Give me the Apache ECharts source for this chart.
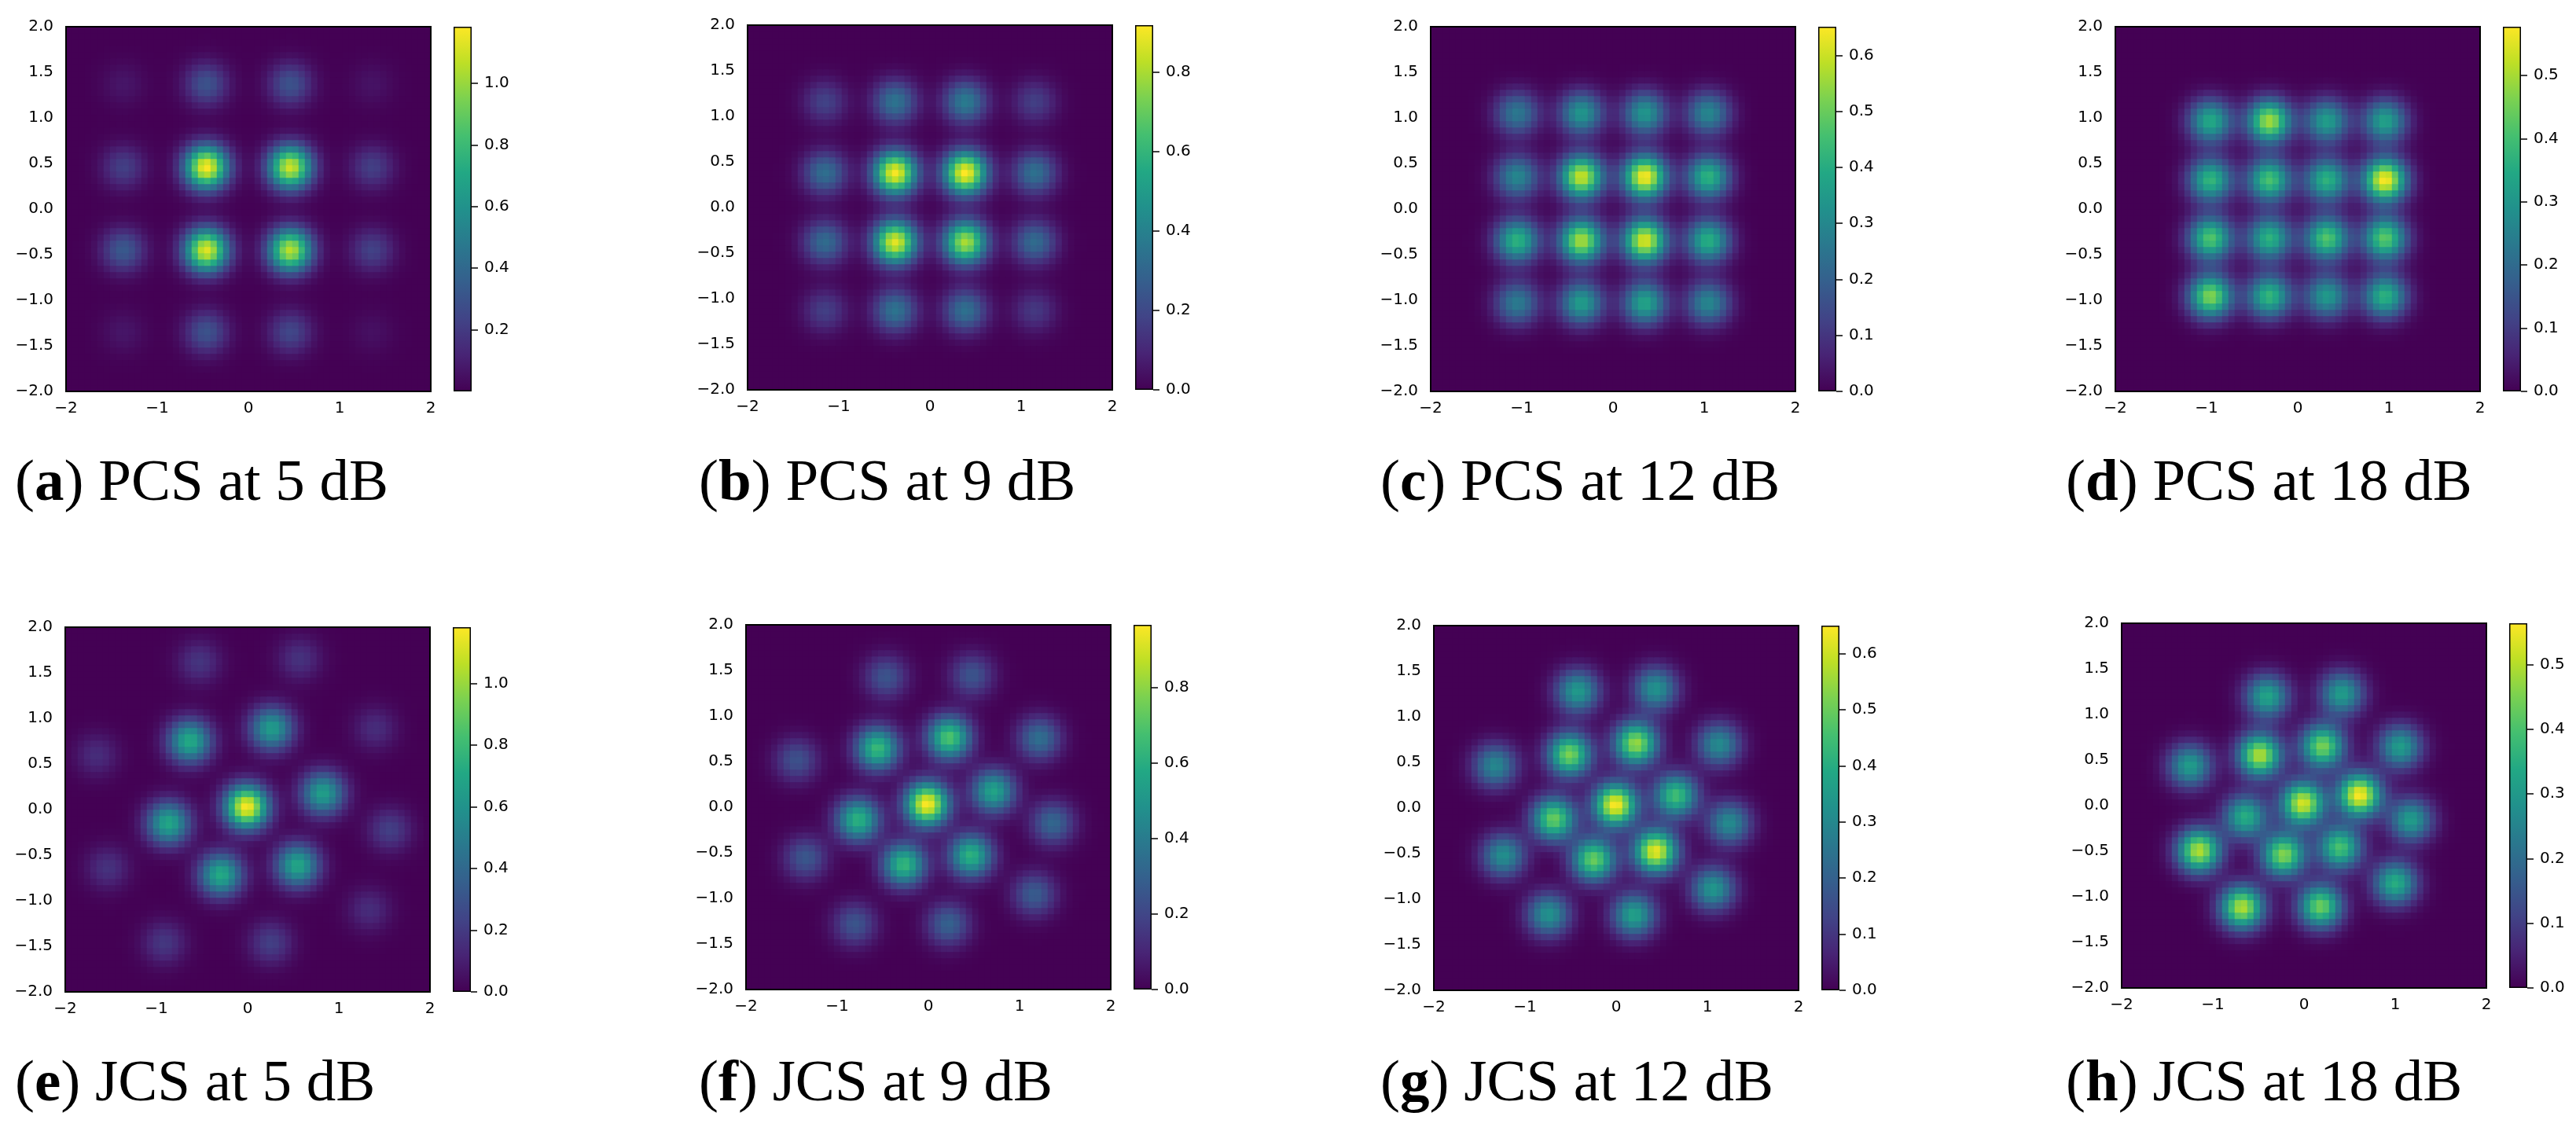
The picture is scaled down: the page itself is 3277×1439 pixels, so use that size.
<!DOCTYPE html>
<html>
<head>
<meta charset="utf-8">
<script src="https://cdn.jsdelivr.net/npm/echarts@6/dist/echarts.min.js"></script>
<style>
html, body { margin: 0; background: #fff; }
#main { width: 3277px; height: 1439px; }
</style>
</head>
<body>
<div id="main"></div>
<script>
// constellation points: [x, y, peak density]
var pcs5dB = [
    [-1.37, 1.37, 0.07], [-0.46, 1.37, 0.30], [0.46, 1.37, 0.30], [1.36, 1.37, 0.06],
    [-1.37, 0.46, 0.22], [-0.46, 0.46, 1.18], [0.46, 0.46, 1.10], [1.36, 0.46, 0.22],
    [-1.37, -0.45, 0.33], [-0.46, -0.45, 1.13], [0.46, -0.45, 1.06], [1.36, -0.45, 0.23],
    [-1.37, -1.35, 0.07], [-0.46, -1.35, 0.30], [0.46, -1.35, 0.25], [1.36, -1.35, 0.05]
];
var pcs9dB = [
    [-1.15, 1.16, 0.18], [-0.38, 1.16, 0.35], [0.39, 1.16, 0.38], [1.15, 1.16, 0.17],
    [-1.15, 0.38, 0.33], [-0.38, 0.38, 0.91], [0.39, 0.38, 0.92], [1.15, 0.38, 0.34],
    [-1.15, -0.38, 0.32], [-0.38, -0.38, 0.88], [0.39, -0.38, 0.80], [1.15, -0.38, 0.32],
    [-1.15, -1.13, 0.17], [-0.38, -1.13, 0.35], [0.39, -1.13, 0.34], [1.15, -1.13, 0.15]
];
var pcs12dB = [
    [-1.05, 1.05, 0.26], [-0.345, 1.05, 0.34], [0.35, 1.05, 0.34], [1.045, 1.05, 0.30],
    [-1.05, 0.355, 0.30], [-0.345, 0.355, 0.60], [0.35, 0.355, 0.65], [1.045, 0.355, 0.42],
    [-1.05, -0.345, 0.42], [-0.345, -0.345, 0.57], [0.35, -0.345, 0.62], [1.045, -0.345, 0.41],
    [-1.05, -1.03, 0.27], [-0.345, -1.03, 0.36], [0.35, -1.03, 0.38], [1.045, -1.03, 0.30]
];
var pcs18dB = [
    [-0.955, 0.965, 0.35], [-0.31, 0.965, 0.50], [0.32, 0.965, 0.32], [0.957, 0.965, 0.33],
    [-0.955, 0.32, 0.38], [-0.31, 0.32, 0.41], [0.32, 0.32, 0.37], [0.957, 0.32, 0.577],
    [-0.955, -0.32, 0.42], [-0.31, -0.32, 0.37], [0.32, -0.32, 0.42], [0.957, -0.32, 0.43],
    [-0.955, -0.955, 0.47], [-0.31, -0.955, 0.38], [0.32, -0.955, 0.31], [0.957, -0.955, 0.37]
];
var jcs5dB = [
    [-0.01, 0.03, 1.18],
    [-0.634, 0.75, 0.72], [0.265, 0.889, 0.65], [0.827, 0.178, 0.66],
    [0.548, -0.612, 0.70], [-0.292, -0.714, 0.72], [-0.867, -0.149, 0.70],
    [-0.53, 1.617, 0.18], [0.571, 1.654, 0.17], [1.402, 0.889, 0.15],
    [1.56, -0.222, 0.22], [1.335, -1.097, 0.15], [0.256, -1.461, 0.22],
    [-0.912, -1.461, 0.19], [-1.533, -0.641, 0.17], [-1.654, 0.597, 0.15]
];
var jcs9dB = [
    [-0.013, 0.035, 0.967],
    [-0.557, 0.646, 0.65], [0.229, 0.763, 0.70], [0.714, 0.173, 0.56],
    [0.467, -0.53, 0.62], [-0.265, -0.628, 0.64], [-0.769, -0.136, 0.62],
    [-0.463, 1.429, 0.25], [0.481, 1.447, 0.25], [1.218, 0.755, 0.35],
    [1.366, -0.173, 0.32], [1.164, -0.955, 0.28], [0.22, -1.283, 0.30],
    [-0.804, -1.283, 0.25], [-1.344, -0.555, 0.26], [-1.443, 0.518, 0.24]
];
var jcs12dB = [
    [-0.007, 0.035, 0.65],
    [-0.511, 0.588, 0.52], [0.218, 0.708, 0.55], [0.655, 0.136, 0.45],
    [0.434, -0.475, 0.63], [-0.245, -0.566, 0.50], [-0.682, -0.118, 0.50],
    [-0.421, 1.279, 0.35], [0.434, 1.308, 0.33], [1.127, 0.697, 0.31],
    [1.24, -0.166, 0.31], [1.064, -0.886, 0.34], [0.196, -1.174, 0.37],
    [-0.74, -1.167, 0.33], [-1.235, -0.522, 0.32], [-1.325, 0.464, 0.30]
];
var jcs18dB = [
    [-0.011, 0.026, 0.53],
    [-0.484, 0.554, 0.50], [0.205, 0.652, 0.45], [0.61, 0.117, 0.564],
    [0.394, -0.459, 0.40], [-0.223, -0.539, 0.46], [-0.641, -0.12, 0.35],
    [-0.403, 1.198, 0.33], [0.416, 1.228, 0.31], [1.055, 0.645, 0.31],
    [1.172, -0.157, 0.31], [1.001, -0.849, 0.35], [0.182, -1.104, 0.44],
    [-0.677, -1.115, 0.50], [-1.15, -0.495, 0.50], [-1.249, 0.437, 0.31]
];

var panelData = [pcs5dB, pcs9dB, pcs12dB, pcs18dB, jcs5dB, jcs9dB, jcs12dB, jcs18dB];
var panelLetters = ['a', 'b', 'c', 'd', 'e', 'f', 'g', 'h'];
var panelNames = ['PCS at 5 dB', 'PCS at 9 dB', 'PCS at 12 dB', 'PCS at 18 dB',
                  'JCS at 5 dB', 'JCS at 9 dB', 'JCS at 12 dB', 'JCS at 18 dB'];
var colorbarMax = [1.184, 0.918, 0.651, 0.577, 1.183, 0.967, 0.650, 0.564];
var colorbarTicks = [
    [0.2, 0.4, 0.6, 0.8, 1.0],
    [0, 0.2, 0.4, 0.6, 0.8],
    [0, 0.1, 0.2, 0.3, 0.4, 0.5, 0.6],
    [0, 0.1, 0.2, 0.3, 0.4, 0.5],
    [0, 0.2, 0.4, 0.6, 0.8, 1.0],
    [0, 0.2, 0.4, 0.6, 0.8],
    [0, 0.1, 0.2, 0.3, 0.4, 0.5, 0.6],
    [0, 0.1, 0.2, 0.3, 0.4, 0.5]
];

// layout / style
var plotLeft = [84, 951, 1820, 2691, 83, 949, 1824, 2699];
var plotTop = [34, 32, 34, 34, 798, 795, 796, 793];
var plotW = 464, plotH = 464;
var captionLeft = [19, 889, 1756, 2628];
var captionTop = [579, 1343];
var kernelSigma = 0.165;   // spread of each point in the density image
var nBins = 58;            // image resolution per axis (8 px cells)
var tickFont = 'DejaVu Sans';
var captionFont = 'Liberation Serif';

var viridis = ['#440154', '#482475', '#414487', '#355f8d', '#2a788e', '#21918c',
               '#22a884', '#44bf70', '#7ad151', '#bddf26', '#fde725'];

var binIdx = [];
for (var k = 0; k < nBins; k++) binIdx.push(k);

// density image cells [col, row, value] built from the constellation points
function densityCells(pts) {
    var cells = [], s2 = 2 * kernelSigma * kernelSigma;
    for (var ky = 0; ky < nBins; ky++) {
        var y = -2 + (ky + 0.5) * 4 / nBins;
        for (var kx = 0; kx < nBins; kx++) {
            var x = -2 + (kx + 0.5) * 4 / nBins, v = 0;
            pts.forEach(function (p) {
                var dx = x - p[0], dy = y - p[1];
                v += p[2] * Math.exp(-(dx * dx + dy * dy) / s2);
            });
            cells.push([kx, ky, v]);
        }
    }
    return cells;
}
function minusSign(s) { return s.replace('-', '\u2212'); }

var chart = echarts.init(document.getElementById('main'));
var grids = [], xAxes = [], yAxes = [], series = [], titles = [], visualMaps = [];

panelData.forEach(function (pts, i) {
    var col = i % 4, row = Math.floor(i / 4);
    var cmax = colorbarMax[i];

    // main plot
    grids.push({
        left: plotLeft[i], top: plotTop[i], width: plotW, height: plotH, z: 5,
        show: true, backgroundColor: 'transparent', borderColor: '#000', borderWidth: 2
    });
    xAxes.push({
        gridIndex: 2 * i, type: 'value', position: 'bottom', min: -2, max: 2, interval: 1,
        axisLine: { show: false },
        axisTick: { show: true, length: 8, lineStyle: { color: '#000', width: 1.5 } },
        axisLabel: { margin: 12, fontFamily: tickFont, fontSize: 20, color: '#000',
                     formatter: function (v) { return minusSign(String(v)); } },
        splitLine: { show: false }
    });
    xAxes.push({ gridIndex: 2 * i, type: 'category', position: 'top', data: binIdx, show: false });
    yAxes.push({
        gridIndex: 2 * i, type: 'value', position: 'left', min: -2, max: 2, interval: 0.5,
        axisLine: { show: false },
        axisTick: { show: true, length: 8, lineStyle: { color: '#000', width: 1.5 } },
        axisLabel: { margin: 16, fontFamily: tickFont, fontSize: 20, color: '#000',
                     formatter: function (v) { return minusSign(v.toFixed(1)); } },
        splitLine: { show: false }
    });
    yAxes.push({ gridIndex: 2 * i, type: 'category', position: 'right', data: binIdx, show: false });
    series.push({
        type: 'heatmap', xAxisIndex: 3 * i + 1, yAxisIndex: 3 * i + 1,
        silent: true, progressive: 0,
        data: densityCells(pts)
    });
    visualMaps.push({
        type: 'continuous', show: false, seriesIndex: 2 * i, dimension: 2,
        min: 0, max: cmax, inRange: { color: viridis }
    });

    // colour bar
    grids.push({ left: plotLeft[i] + plotW + 29, top: plotTop[i], width: 23, height: plotH });
    xAxes.push({ gridIndex: 2 * i + 1, type: 'category', data: [''], show: false });
    yAxes.push({
        gridIndex: 2 * i + 1, type: 'value', position: 'right', min: 0, max: cmax,
        axisLine: { show: false },
        axisTick: { show: true, length: 8, customValues: colorbarTicks[i],
                    lineStyle: { color: '#000', width: 1.5 } },
        axisLabel: { margin: 16, customValues: colorbarTicks[i], fontFamily: tickFont, fontSize: 20,
                     color: '#000', formatter: function (v) { return v.toFixed(1); } },
        splitLine: { show: false }
    });
    series.push({
        type: 'bar', xAxisIndex: 3 * i + 2, yAxisIndex: 3 * i + 2, silent: true,
        data: [cmax], barWidth: '100%',
        itemStyle: {
            color: new echarts.graphic.LinearGradient(0, 1, 0, 0, viridis.map(function (c, k) {
                return { offset: k / 10, color: c };
            })),
            borderColor: '#000', borderWidth: 1.5
        }
    });

    // caption
    titles.push({
        text: '({b|' + panelLetters[i] + '}) ' + panelNames[i],
        left: captionLeft[col], top: captionTop[row],
        textAlign: 'left', textVerticalAlign: 'top', padding: 0,
        textStyle: {
            fontFamily: captionFont, fontSize: 75, fontWeight: 'normal', color: '#000',
            rich: { b: { fontFamily: captionFont, fontSize: 75, fontWeight: 'bold', color: '#000' } }
        }
    });
});

chart.setOption({
    backgroundColor: '#fff',
    animation: false,
    title: titles,
    grid: grids,
    xAxis: xAxes,
    yAxis: yAxes,
    visualMap: visualMaps,
    series: series
});
</script>
</body>
</html>
